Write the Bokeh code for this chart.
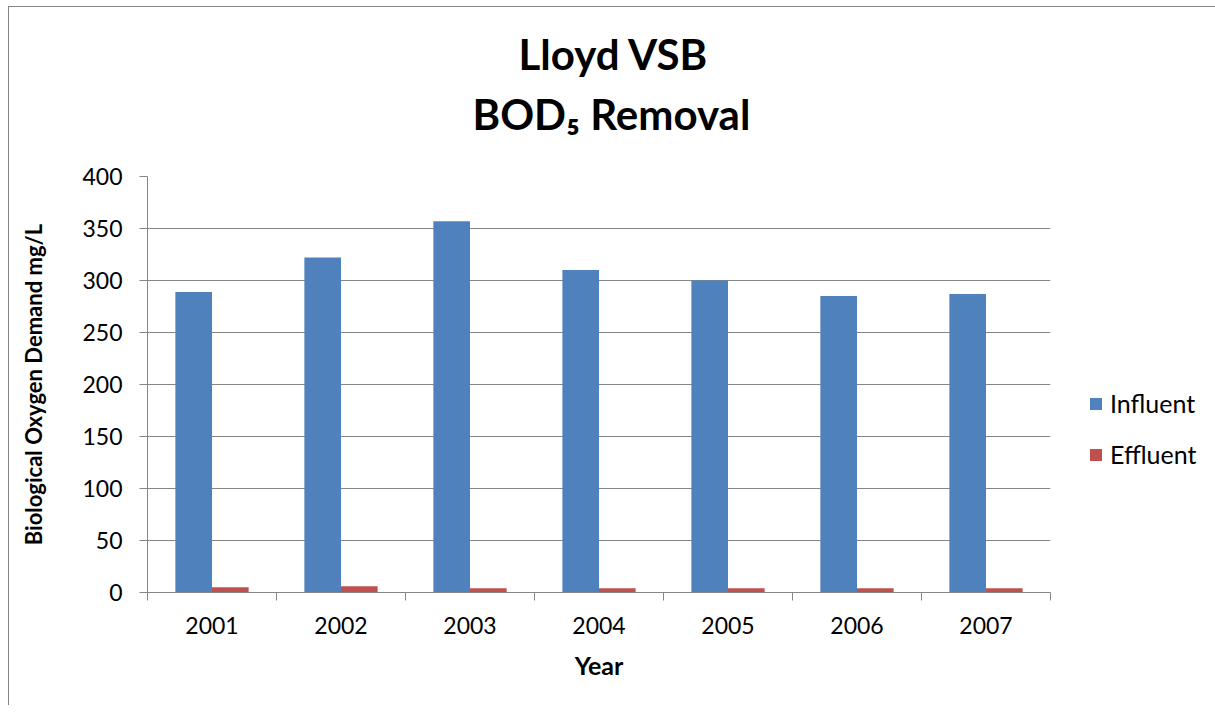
from bokeh.plotting import figure
from bokeh.models import Range1d, FixedTicker, Legend, LegendItem, Title, ColumnDataSource
from bokeh.transform import dodge
from bokeh.embed import file_html
from bokeh.resources import INLINE

# ---- data ----
years = ["2001", "2002", "2003", "2004", "2005", "2006", "2007"]
influent = [289, 322, 357, 310, 300, 285, 287]
effluent = [5, 6, 4, 4, 4, 4, 4]
y_ticks = [0, 50, 100, 150, 200, 250, 300, 350, 400]
series_names = ["Influent", "Effluent"]
series_colors = ["#4F81BD", "#C0504D"]
title_lines = ["Lloyd VSB", "BOD\u2085 Removal"]

positions = [i + 1 for i in range(len(years))]
bar_w = 0.284
GRAY = "#868686"
FONT = "Lato"

src = ColumnDataSource(dict(pos=positions, influent=influent, effluent=effluent))

p = figure(frame_width=903, frame_height=416,
           min_border_left=147, min_border_right=157,
           min_border_top=176, min_border_bottom=113,
           x_range=Range1d(0.5, len(years) + 0.5), y_range=Range1d(0, 400),
           output_backend="svg", toolbar_location=None,
           border_fill_color=None, background_fill_color="white")
p.styles = {
    "background-image": "linear-gradient(#868686,#868686), linear-gradient(#868686,#868686)",
    "background-size": "1px calc(100% - 6px), calc(100% - 8px) 1px",
    "background-position": "8px 6px, 8px 6px",
    "background-repeat": "no-repeat",
    "background-color": "white",
}
p.outline_line_color = None

r1 = p.vbar(x=dodge("pos", -bar_w / 2, range=p.x_range), top="influent", width=bar_w,
            source=src, fill_color=series_colors[0], line_color=None)
r2 = p.vbar(x=dodge("pos", bar_w / 2, range=p.x_range), top="effluent", width=bar_w,
            source=src, fill_color=series_colors[1], line_color=None)

# grid
p.xgrid.visible = False
p.ygrid.ticker = FixedTicker(ticks=y_ticks)
p.ygrid.grid_line_color = GRAY
p.ygrid.grid_line_width = 1

# x axis
xa = p.xaxis[0]
xa.ticker = FixedTicker(ticks=positions,
                        minor_ticks=[x - 0.5 for x in positions] + [positions[-1] + 0.5])
xa.major_label_overrides = {x: y for x, y in zip(positions, years)}
xa.major_tick_out = 0
xa.major_tick_in = 0
xa.minor_tick_out = 8
xa.minor_tick_in = 0
xa.minor_tick_line_color = GRAY
xa.axis_line_color = GRAY
xa.major_label_text_font = FONT
xa.major_label_text_font_size = "23px"
xa.major_label_text_color = "black"
xa.major_label_standoff = 16
xa.axis_label = "Year"
xa.axis_label_text_font = FONT
xa.axis_label_text_font_style = "bold"
xa.axis_label_text_font_size = "25px"
xa.axis_label_text_color = "black"
xa.axis_label_standoff = 13

# y axis
ya = p.yaxis[0]
ya.ticker = FixedTicker(ticks=y_ticks)
ya.major_tick_out = 8
ya.major_tick_in = 0
ya.minor_tick_line_color = None
ya.major_tick_line_color = GRAY
ya.axis_line_color = GRAY
ya.major_label_text_font = FONT
ya.major_label_text_font_size = "23px"
ya.major_label_text_color = "black"
ya.major_label_standoff = 17
ya.axis_label = "Biological Oxygen Demand mg/L"
ya.axis_label_text_font = FONT
ya.axis_label_text_font_style = "bold"
ya.axis_label_text_font_size = "22px"
ya.axis_label_text_color = "black"
ya.axis_label_standoff = 32

# titles: p.title is the outer line, the added Title sits next to the frame
p.title.text = title_lines[0]
p.title.align = "left"
p.title.offset = 371
p.title.standoff = -58
p.title.text_font = FONT
p.title.text_font_style = "bold"
p.title.text_font_size = "42px"
p.title.text_color = "black"
p.add_layout(Title(text=title_lines[1], align="left", offset=325, standoff=75,
                   text_font=FONT, text_font_style="bold", text_font_size="42px",
                   text_color="black"), "above")

legend = Legend(items=[LegendItem(label=series_names[0], renderers=[r1]),
                       LegendItem(label=series_names[1], renderers=[r2])],
                location=(38, 123), orientation="vertical",
                glyph_width=15, glyph_height=15, label_standoff=7, spacing=21,
                padding=0, margin=0, border_line_color=None, background_fill_alpha=0,
                label_text_font=FONT, label_text_font_size="25px", label_text_color="black")
p.add_layout(legend, "right")

open("out.html", "w").write(file_html(p, INLINE))
